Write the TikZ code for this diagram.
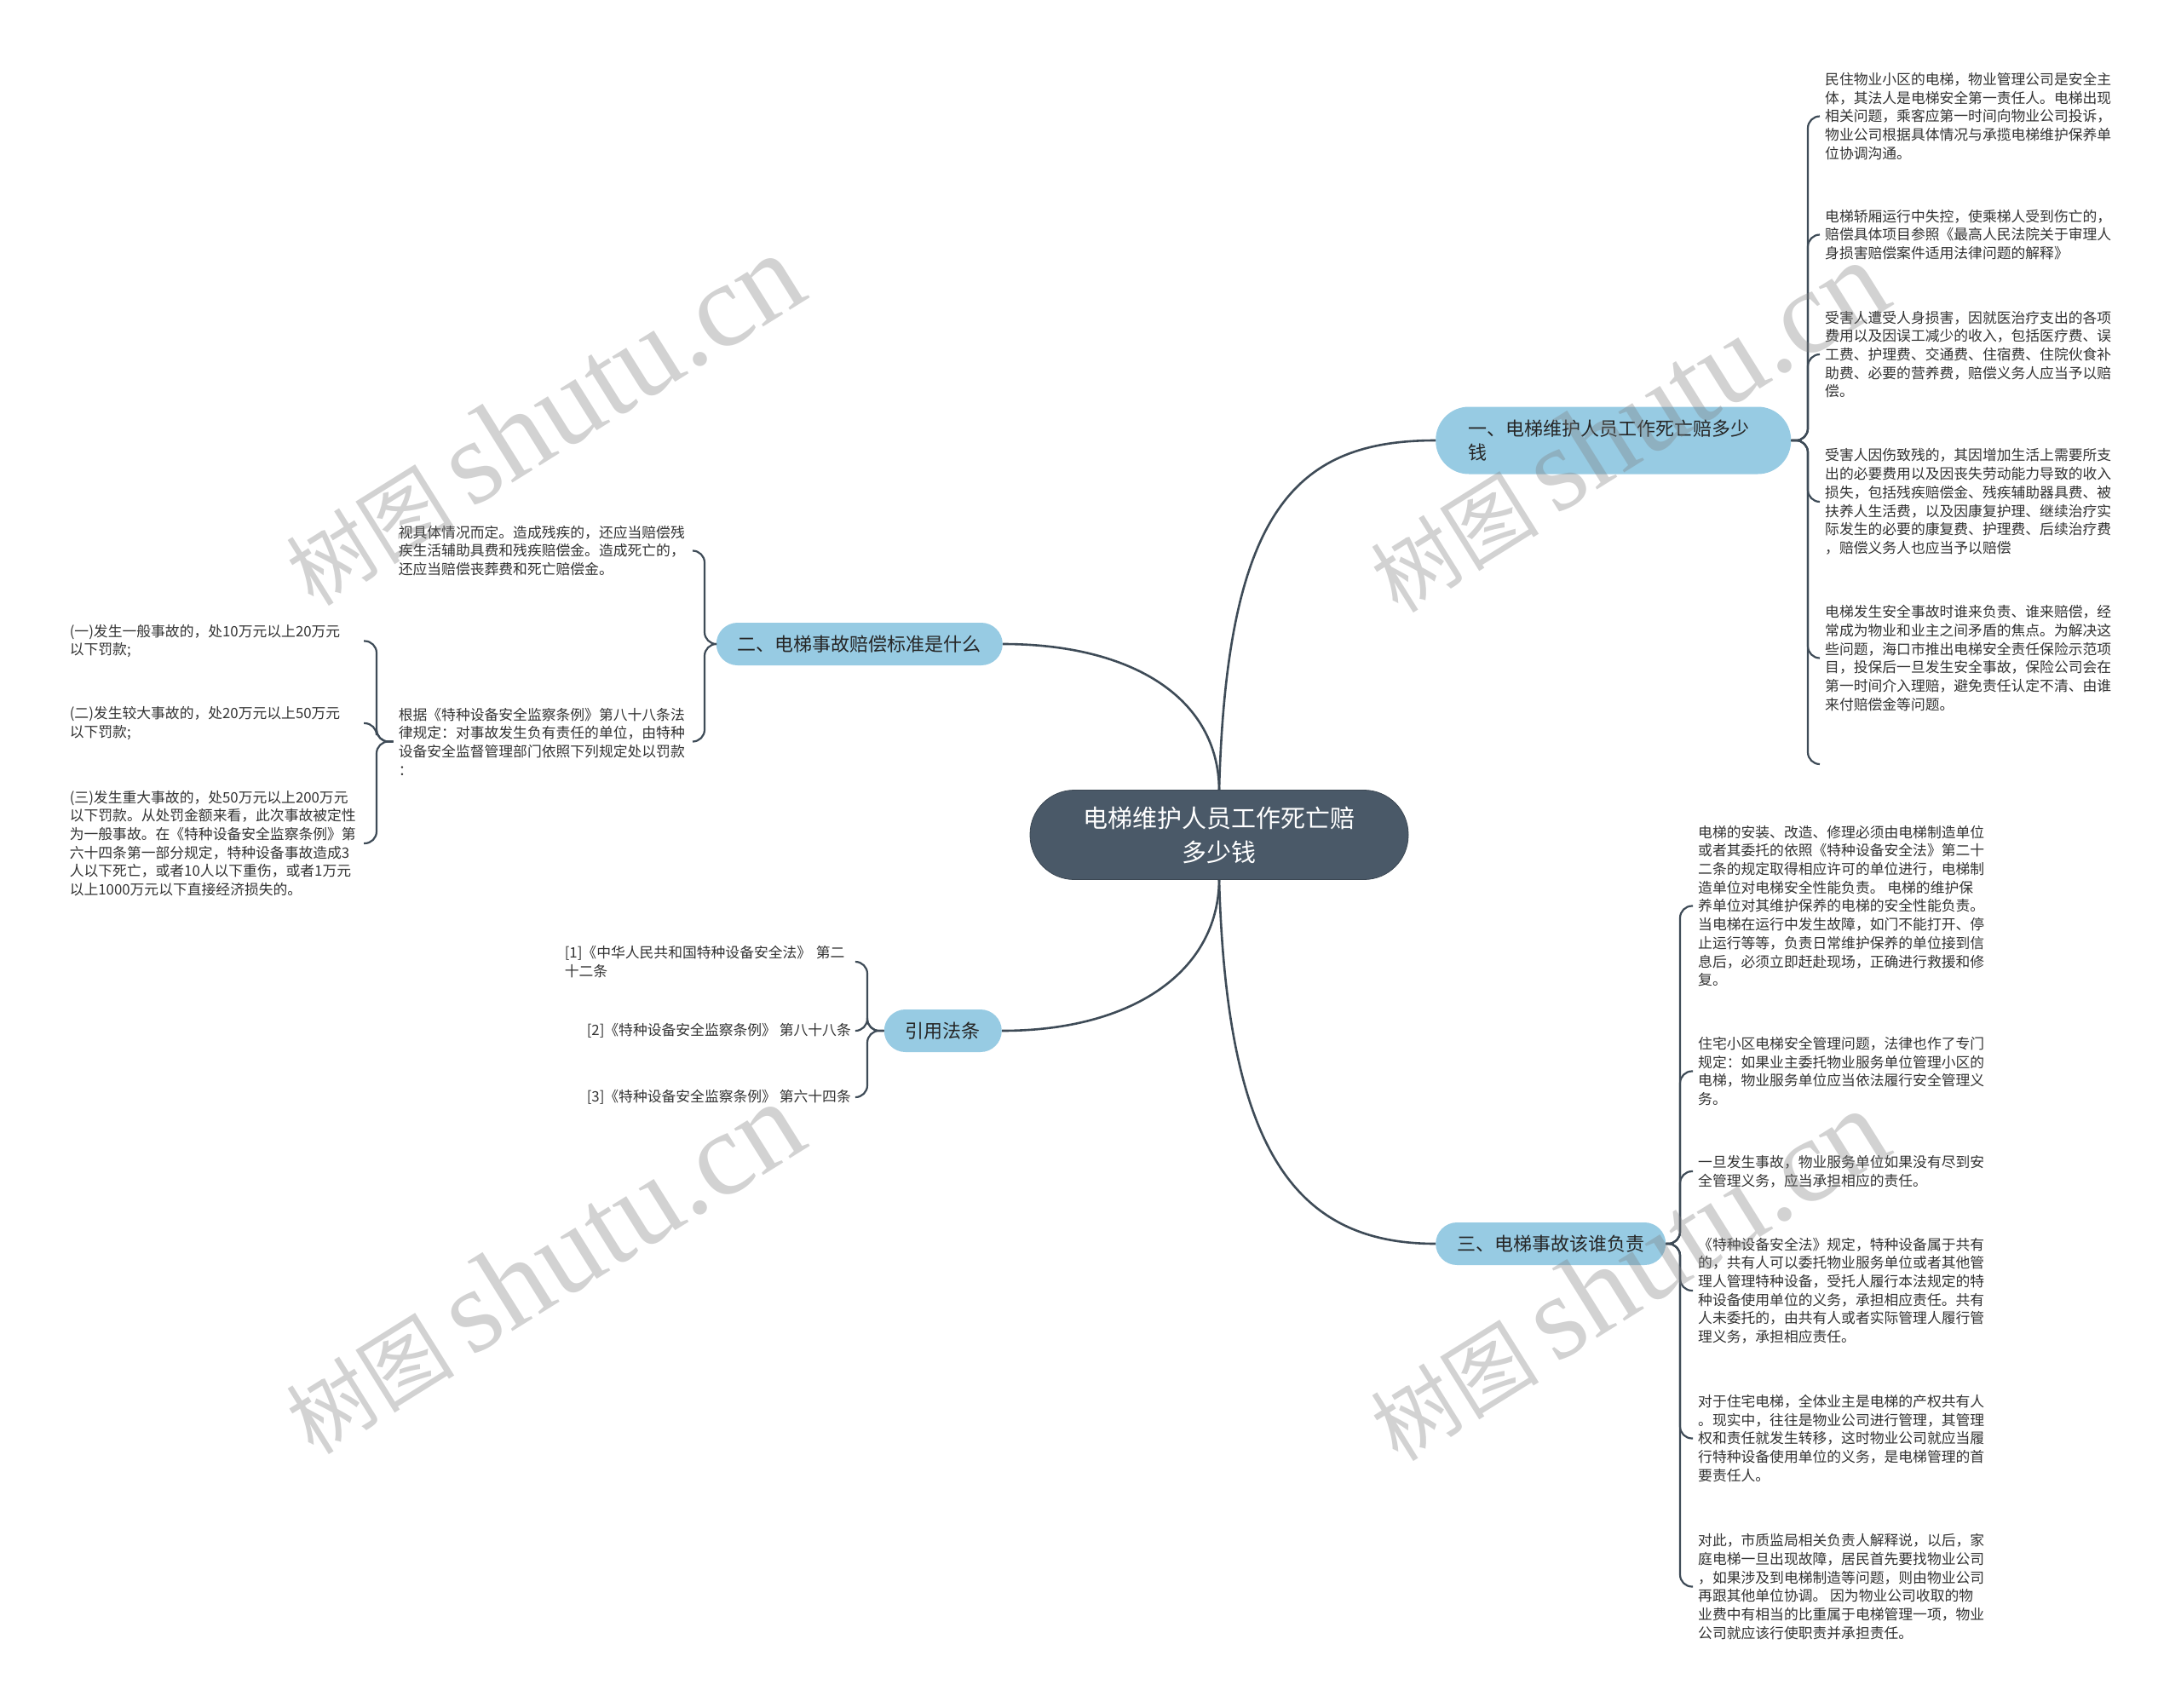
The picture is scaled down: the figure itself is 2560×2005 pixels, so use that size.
\documentclass[tikz,border=0pt]{standalone}
\usepackage{fontspec}
\setmainfont{Noto Sans CJK SC}
\newfontfamily\wmserif{Liberation Serif}
\definecolor{rootc}{HTML}{4A5968}
\definecolor{brc}{HTML}{97CBE3}
\definecolor{linec}{HTML}{3E4B57}
\definecolor{txt}{HTML}{333333}
\tikzset{
  conn/.style={draw=linec, line width=2.6pt},
  brace/.style={draw=linec, line width=2.2pt, rounded corners=14pt},
  leaf/.style={inner xsep=6pt, inner ysep=0pt, align=left, text=txt,
    font=\fontsize{16.8pt}{21.7pt}\selectfont},
  leafw/.style={leaf, text width=339pt},
  branch/.style={fill=brc, rounded corners=25pt, minimum height=50pt,
    inner xsep=25pt, inner ysep=0pt, text=black!85,
    font=\fontsize{22pt}{28pt}\selectfont},
  wm/.style={text=gray, text opacity=0.35, rotate=32, inner sep=0pt}
}
\begin{document}
\begin{tikzpicture}[x=1pt, y=-1pt]
\fill[white] (0,0) rectangle (2560,2005);
\useasboundingbox (0,0) rectangle (2560,2005);

% root and branches
\node[fill=rootc, draw=rootc!80!black, line width=0.8pt, rounded corners=52pt,
  minimum width=444pt, minimum height=105pt, text=white, align=center,
  font=\fontsize{29pt}{40pt}\selectfont] (root) at (1431,980)
  {电梯维护人员工作死亡赔\\多少钱};

\node[branch, minimum width=417pt, minimum height=79pt, rounded corners=39pt,
  text width=341pt, inner xsep=38pt, align=left, anchor=west] (b1) at (1685,517)
  {一、电梯维护人员工作死亡赔多少\\钱};
\node[branch, anchor=east] (b2) at (1177,756) {二、电梯事故赔偿标准是什么};
\node[branch, anchor=east] (b3) at (1176,1210) {引用法条};
\node[branch, anchor=west] (b4) at (1685,1460) {三、电梯事故该谁负责};

\draw[conn] (root.north) .. controls (1440,600) and (1520,517) .. (b1.west);
\draw[conn] (root.north) .. controls (1430,820) and (1330,756) .. (b2.east);
\draw[conn] (root.south) .. controls (1430,1140) and (1330,1210) .. (b3.east);
\draw[conn] (root.south) .. controls (1440,1350) and (1520,1460) .. (b4.west);

% branch 1 leaves
\node[leaf, anchor=west] (l1a) at (2136,136.5) {民住物业小区的电梯，物业管理公司是安全主\\体，其法人是电梯安全第一责任人。电梯出现\\相关问题，乘客应第一时间向物业公司投诉，\\物业公司根据具体情况与承揽电梯维护保养单\\位协调沟通。};
\node[leaf, anchor=west] (l1b) at (2136,275.5) {电梯轿厢运行中失控，使乘梯人受到伤亡的，\\赔偿具体项目参照《最高人民法院关于审理人\\身损害赔偿案件适用法律问题的解释》};
\node[leaf, anchor=west] (l1c) at (2136,416) {受害人遭受人身损害，因就医治疗支出的各项\\费用以及因误工减少的收入，包括医疗费、误\\工费、护理费、交通费、住宿费、住院伙食补\\助费、必要的营养费，赔偿义务人应当予以赔\\偿。};
\node[leaf, anchor=west] (l1d) at (2136,589) {受害人因伤致残的，其因增加生活上需要所支\\出的必要费用以及因丧失劳动能力导致的收入\\损失，包括残疾赔偿金、残疾辅助器具费、被\\扶养人生活费，以及因康复护理、继续治疗实\\际发生的必要的康复费、护理费、后续治疗费\\，赔偿义务人也应当予以赔偿};
\node[leaf, anchor=west] (l1e) at (2136,772.5) {电梯发生安全事故时谁来负责、谁来赔偿，经\\常成为物业和业主之间矛盾的焦点。为解决这\\些问题，海口市推出电梯安全责任保险示范项\\目，投保后一旦发生安全事故，保险公司会在\\第一时间介入理赔，避免责任认定不清、由谁\\来付赔偿金等问题。};
\coordinate (l1x) at (2136,897);
\foreach \c in {l1a,l1b,l1c,l1d,l1e}
  \draw[brace] (b1.east) -- (2122,517) |- (\c.west);
\draw[brace] (b1.east) -- (2122,517) |- (l1x);

% branch 4 leaves
\node[leaf, anchor=west] (l4a) at (1987,1063.5) {电梯的安装、改造、修理必须由电梯制造单位\\或者其委托的依照《特种设备安全法》第二十\\二条的规定取得相应许可的单位进行，电梯制\\造单位对电梯安全性能负责。 电梯的维护保\\养单位对其维护保养的电梯的安全性能负责。\\当电梯在运行中发生故障，如门不能打开、停\\止运行等等，负责日常维护保养的单位接到信\\息后，必须立即赶赴现场，正确进行救援和修\\复。};
\node[leaf, anchor=west] (l4b) at (1987,1257.5) {住宅小区电梯安全管理问题，法律也作了专门\\规定：如果业主委托物业服务单位管理小区的\\电梯，物业服务单位应当依法履行安全管理义\\务。};
\node[leaf, anchor=west] (l4c) at (1987,1375) {一旦发生事故，物业服务单位如果没有尽到安\\全管理义务，应当承担相应的责任。};
\node[leaf, anchor=west] (l4d) at (1987,1515) {《特种设备安全法》规定，特种设备属于共有\\的，共有人可以委托物业服务单位或者其他管\\理人管理特种设备，受托人履行本法规定的特\\种设备使用单位的义务，承担相应责任。共有\\人未委托的，由共有人或者实际管理人履行管\\理义务，承担相应责任。};
\node[leaf, anchor=west] (l4e) at (1987,1688.5) {对于住宅电梯，全体业主是电梯的产权共有人\\。现实中，往往是物业公司进行管理，其管理\\权和责任就发生转移，这时物业公司就应当履\\行特种设备使用单位的义务，是电梯管理的首\\要责任人。};
\node[leaf, anchor=west] (l4f) at (1987,1862.5) {对此，市质监局相关负责人解释说，以后，家\\庭电梯一旦出现故障，居民首先要找物业公司\\，如果涉及到电梯制造等问题，则由物业公司\\再跟其他单位协调。 因为物业公司收取的物\\业费中有相当的比重属于电梯管理一项，物业\\公司就应该行使职责并承担责任。};
\foreach \c in {l4a,l4b,l4c,l4d,l4e,l4f}
  \draw[brace] (b4.east) -- (1972,1460) |- (\c.west);

% branch 2 leaves
\node[leafw, anchor=east] (l2a) at (813,646.5) {视具体情况而定。造成残疾的，还应当赔偿残\\疾生活辅助具费和残疾赔偿金。造成死亡的，\\还应当赔偿丧葬费和死亡赔偿金。};
\node[leafw, anchor=east] (l2b) at (813,870.5) {根据《特种设备安全监察条例》第八十八条法\\律规定：对事故发生负有责任的单位，由特种\\设备安全监督管理部门依照下列规定处以罚款\\：};
\foreach \c in {l2a,l2b}
  \draw[brace] (b2.west) -- (827,756) |- (\c.east);

\node[leafw, anchor=east] (l2b1) at (427,752.5) {(一)发生一般事故的，处10万元以上20万元\\以下罚款;};
\node[leafw, anchor=east] (l2b2) at (427,849) {(二)发生较大事故的，处20万元以上50万元\\以下罚款;};
\node[leafw, anchor=east] (l2b3) at (427,990) {(三)发生重大事故的，处50万元以上200万元\\以下罚款。从处罚金额来看，此次事故被定性\\为一般事故。在《特种设备安全监察条例》第\\六十四条第一部分规定，特种设备事故造成3\\人以下死亡，或者10人以下重伤，或者1万元\\以上1000万元以下直接经济损失的。};
\foreach \c in {l2b1,l2b2,l2b3}
  \draw[brace] (l2b.west) -- (442,870.5) |- (\c.east);

% citations
\node[leaf, text width=336pt, anchor=east] (c1) at (1005,1129) {[1]《中华人民共和国特种设备安全法》 第二\\十二条};
\node[leaf, anchor=east] (c2) at (1005,1210) {[2]《特种设备安全监察条例》 第八十八条};
\node[leaf, anchor=east] (c3) at (1005,1288) {[3]《特种设备安全监察条例》 第六十四条};
\foreach \c in {c1,c2,c3}
  \draw[brace] (b3.west) -- (1018,1210) |- (\c.east);

% watermarks
\foreach \p in {(637,493),(637,1489),(1910,501),(1910,1497)}
  \node[wm] at \p {{\fontsize{99pt}{99pt}\selectfont 树图}\hspace{20pt}{\wmserif\fontsize{140pt}{140pt}\selectfont shutu.cn}};
\end{tikzpicture}
\end{document}
